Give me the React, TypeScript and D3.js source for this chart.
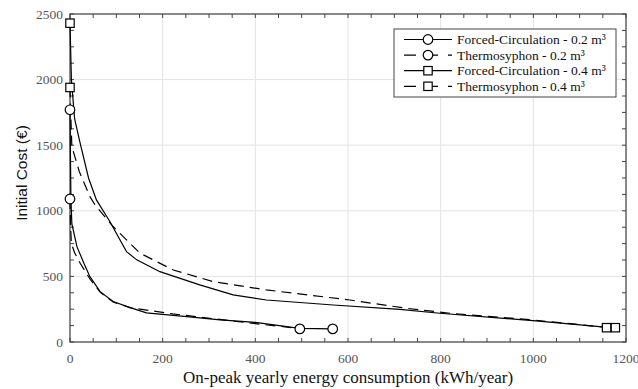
import React from "react";
import * as d3 from "d3";

const fc02X = [0, 1, 2, 4, 15, 30, 43, 65, 93, 130, 165, 252, 324, 400, 496, 567];
const fc02Y = [1770, 1400, 1090, 900, 727, 600, 498, 384, 308, 262, 222, 193, 168, 150, 104, 100];
const th02X = [0, 1, 3, 10, 22, 43, 65, 93, 129, 222, 280, 400, 460, 496];
const th02Y = [1090, 900, 750, 680, 600, 480, 380, 305, 262, 214, 190, 140, 117, 100];
const fc04X = [0, 3, 10, 21, 40, 57, 86, 108, 122, 144, 194, 280, 352, 424, 568, 712, 798, 999, 1143, 1177];
const fc04Y = [2430, 2000, 1700, 1530, 1250, 1083, 918, 778, 689, 626, 536, 435, 359, 320, 282, 249, 219, 163, 117, 109];
const th04X = [0, 2, 4, 20, 43, 54, 93, 151, 223, 280, 309, 424, 604, 726, 820, 999, 1143, 1158];
const th04Y = [1940, 1700, 1490, 1300, 1108, 1045, 880, 677, 549, 490, 460, 397, 320, 257, 219, 168, 117, 109];

const xTicks = [0, 200, 400, 600, 800, 1000, 1200];
const yTicks = [0, 500, 1000, 1500, 2000, 2500];

const seriesNames = [
  "Forced-Circulation - 0.2 m\u00b3",
  "Thermosyphon - 0.2 m\u00b3",
  "Forced-Circulation - 0.4 m\u00b3",
  "Thermosyphon - 0.4 m\u00b3",
];

export default function App() {
  const W = 638, H = 389;
  const L = 70, R = 626, T = 14, B = 342;
  const x = d3.scaleLinear().domain([0, 1200]).range([L, R]);
  const y = d3.scaleLinear().domain([0, 2500]).range([B, T]);
  const line = d3.line<[number, number]>().x((d) => x(d[0])).y((d) => y(d[1]));
  const zip = (a: number[], b: number[]) => a.map((v, i) => [v, b[i]] as [number, number]);

  const series = [
    { name: seriesNames[0], pts: zip(fc02X, fc02Y), dash: "", marker: "circle" },
    { name: seriesNames[1], pts: zip(th02X, th02Y), dash: "10,6", marker: "circle" },
    { name: seriesNames[2], pts: zip(fc04X, fc04Y), dash: "", marker: "square" },
    { name: seriesNames[3], pts: zip(th04X, th04Y), dash: "10,6", marker: "square" },
  ];

  const minorX = d3.range(0, 1201, 50);
  const minorY = d3.range(0, 2501, 125);
  const axisColor = "#444";
  const serifStyle = { fontFamily: "Liberation Serif, DejaVu Serif, Times New Roman, serif" };

  const marker = (m: string, cx: number, cy: number, key: string) =>
    m === "circle" ? (
      <circle key={key} cx={cx} cy={cy} r={4.8} fill="white" stroke="black" strokeWidth={1.2} />
    ) : (
      <rect key={key} x={cx - 4.2} y={cy - 4.2} width={8.4} height={8.4} fill="white" stroke="black" strokeWidth={1.2} />
    );

  return (
    <svg width={W} height={H} style={{ position: "absolute", left: 0, top: 0 }}>
      <rect x={0} y={0} width={W} height={H} fill="white" />
      {xTicks.map((t) => (
        <line key={"gx" + t} x1={x(t)} x2={x(t)} y1={T} y2={B} stroke="#e3e3e3" />
      ))}
      {yTicks.map((t) => (
        <line key={"gy" + t} x1={L} x2={R} y1={y(t)} y2={y(t)} stroke="#e3e3e3" />
      ))}
      {minorX.map((t) => (
        <g key={"mx" + t}>
          <line x1={x(t)} x2={x(t)} y1={B} y2={B - 4} stroke={axisColor} />
          <line x1={x(t)} x2={x(t)} y1={T} y2={T + 4} stroke={axisColor} />
        </g>
      ))}
      {minorY.map((t) => (
        <g key={"my" + t}>
          <line x1={L} x2={L + 4} y1={y(t)} y2={y(t)} stroke={axisColor} />
          <line x1={R} x2={R - 4} y1={y(t)} y2={y(t)} stroke={axisColor} />
        </g>
      ))}
      <rect x={L} y={T} width={R - L} height={B - T} fill="none" stroke={axisColor} strokeWidth={1.2} />
      {series.map((s, i) => (
        <path key={"s" + i} d={line(s.pts) || ""} fill="none" stroke="black" strokeWidth={1.2} strokeDasharray={s.dash} />
      ))}
      {series.map((s, i) => (
        <g key={"m" + i}>
          {marker(s.marker, x(s.pts[0][0]), y(s.pts[0][1]), "a")}
          {marker(s.marker, x(s.pts[s.pts.length - 1][0]), y(s.pts[s.pts.length - 1][1]), "b")}
        </g>
      ))}
      {xTicks.map((t) => (
        <text key={"tx" + t} x={x(t)} y={363} textAnchor="middle" style={serifStyle} fontSize={13.5} fill="#555">
          {t}
        </text>
      ))}
      {yTicks.map((t) => (
        <text key={"ty" + t} x={L - 7} y={y(t) + 4.5} textAnchor="end" style={serifStyle} fontSize={13.5} fill="#555">
          {t}
        </text>
      ))}
      <text x={(L + R) / 2} y={383} textAnchor="middle" style={serifStyle} fontSize={17} fill="#111">
        On-peak yearly energy consumption (kWh/year)
      </text>
      <text
        transform={`translate(27, 173) rotate(-90)`}
        textAnchor="middle"
        style={{ fontFamily: "Liberation Sans, Arial, sans-serif" }}
        fontSize={15.5}
        fill="#111"
      >
        Initial Cost (€)
      </text>
      <g>
        <rect x={394} y={29} width={222} height={68} fill="white" stroke={axisColor} strokeWidth={1} />
        {series.map((s, i) => {
          const ly = 39.5 + i * 15.6;
          return (
            <g key={"l" + i}>
              <line x1={404} x2={452} y1={ly} y2={ly} stroke="black" strokeWidth={1.2} strokeDasharray={s.dash ? "12,10" : ""} />
              {marker(s.marker, 428, ly, "lm")}
              <text x={457} y={ly + 4.5} style={serifStyle} fontSize={13.5} fill="#111">
                {s.name}
              </text>
            </g>
          );
        })}
      </g>
    </svg>
  );
}
